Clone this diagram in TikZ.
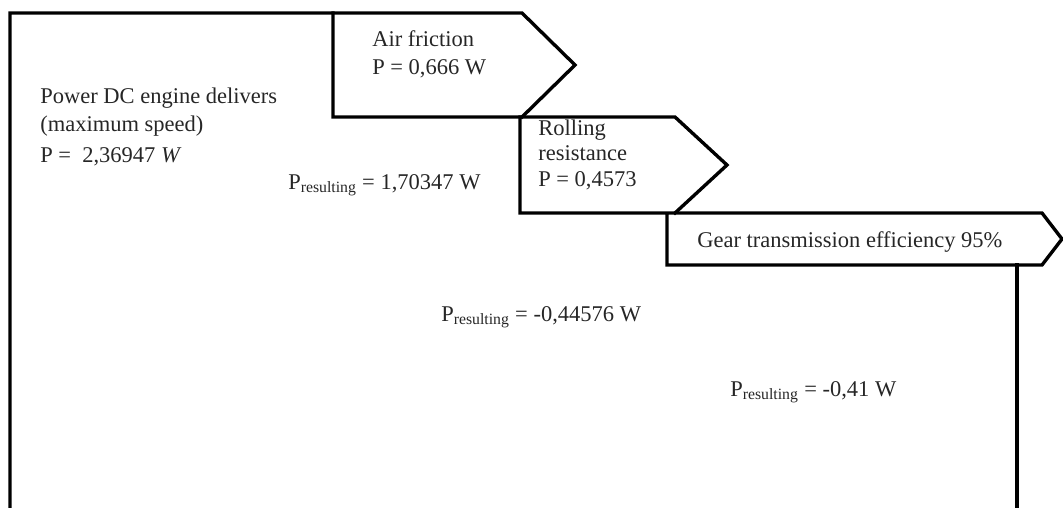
\documentclass[tikz,border=0pt]{standalone}
\usepackage{fontspec}
\setmainfont{Liberation Serif}
\tikzset{
  flow/.style={line width=2.4pt, line join=miter, line cap=rect},
  lbl/.style={font=\fontsize{16}{19.4}\selectfont, anchor=base west, inner sep=0pt, align=left, text=black!85},
}
\newcommand{\Pres}{P\textsubscript{resulting}}

\begin{document}
\begin{tikzpicture}[x=0.025cm, y=-0.025cm]
\useasboundingbox (0,0) rectangle (1063,507);
% outline of the power flow
\draw[flow] (10,507) -- (10,13) -- (522,13) -- (575,65) -- (522,117);
\draw[flow] (333,13) -- (333,117) -- (675,117) -- (727,165) -- (675,213);
\draw[flow] (520,117) -- (520,213) -- (1042,213) -- (1062,239) -- (1042,265) -- (667,265) -- (667,213);
\draw[flow] (1017,265) -- (1017,507);
% labels (base = last line)
\node[lbl] (engine) at (40,131) {Power DC engine delivers\\(maximum speed)};
\node[lbl] (pin) at (40,162) {P =\ \ 2,36947 \textit{W}};
\node[lbl] (air) at (372,74) {Air friction\\P = 0,666 W};
\node[lbl] (res1) at (288,189) {\Pres{} = 1,70347 W};
\node[lbl, font=\fontsize{16}{18}\selectfont] (roll) at (538,186) {Rolling\\resistance\\P = 0,4573};
\node[lbl] (gear) at (697,247) {Gear transmission efficiency 95\%};
\node[lbl] (res2) at (441,321) {\Pres{} = -0,44576 W};
\node[lbl] (res3) at (730,396) {\Pres{} = -0,41 W};
\end{tikzpicture}
\end{document}
